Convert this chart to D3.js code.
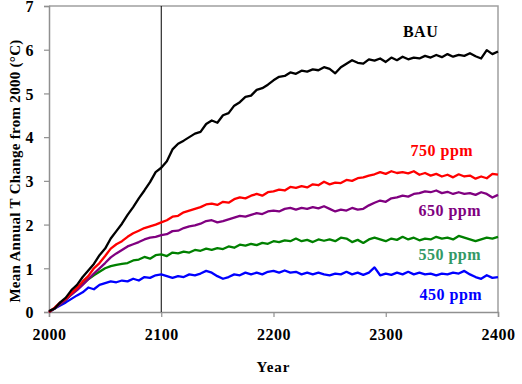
<!DOCTYPE html>
<html>
<head>
<meta charset="utf-8">
<script src="https://cdn.jsdelivr.net/npm/d3@7"></script>
<style>
  body { margin: 0; background: #fff; }
  text { font-family: "Liberation Serif", "Times New Roman", serif; font-weight: bold; }
</style>
</head>
<body>
<svg id="svg"></svg>
<script>
// years sampled every 5 years, 2000..2400
const years = d3.range(2000, 2401, 5);
const xTicks = [2000, 2100, 2200, 2300, 2400];
const yTicks = [0, 1, 2, 3, 4, 5, 6, 7];

const bau = [0.02,0.08,0.22,0.33,0.50,0.62,0.80,0.95,1.10,1.30,1.45,1.68,1.85,2.02,2.22,2.40,2.60,2.78,2.97,3.20,
  3.30,3.45,3.72,3.85,3.92,4.00,4.08,4.12,4.30,4.38,4.33,4.50,4.55,4.72,4.80,4.92,4.95,5.08,5.12,5.20,
  5.30,5.38,5.40,5.48,5.45,5.52,5.50,5.55,5.53,5.60,5.56,5.46,5.60,5.68,5.76,5.70,5.68,5.78,5.75,5.80,
  5.72,5.82,5.76,5.84,5.78,5.82,5.80,5.86,5.82,5.88,5.83,5.90,5.84,5.88,5.86,5.92,5.85,5.80,5.99,5.90,5.96];
const ppm750 = [0.00,0.10,0.22,0.30,0.43,0.55,0.70,0.82,1.00,1.12,1.28,1.45,1.55,1.62,1.72,1.80,1.86,1.92,1.96,2.00,
  2.05,2.10,2.18,2.20,2.28,2.32,2.36,2.40,2.46,2.48,2.45,2.52,2.50,2.58,2.62,2.60,2.66,2.70,2.66,2.74,
  2.76,2.80,2.78,2.86,2.84,2.88,2.85,2.92,2.90,2.98,2.92,2.96,2.95,3.02,3.00,3.06,3.08,3.12,3.15,3.20,
  3.16,3.22,3.18,3.20,3.17,3.22,3.14,3.18,3.12,3.16,3.10,3.14,3.08,3.15,3.10,3.12,3.05,3.10,3.06,3.16,3.14];
const ppm650 = [0.00,0.08,0.18,0.28,0.40,0.50,0.62,0.75,0.88,1.00,1.12,1.25,1.34,1.42,1.50,1.55,1.60,1.66,1.70,1.72,
  1.76,1.78,1.85,1.86,1.92,1.96,1.98,2.02,2.08,2.10,2.05,2.08,2.12,2.16,2.20,2.18,2.22,2.26,2.24,2.30,
  2.32,2.30,2.36,2.38,2.34,2.38,2.36,2.40,2.37,2.42,2.36,2.30,2.34,2.32,2.38,2.34,2.36,2.44,2.50,2.55,
  2.52,2.60,2.62,2.66,2.64,2.70,2.72,2.76,2.74,2.78,2.72,2.75,2.70,2.74,2.70,2.72,2.68,2.74,2.70,2.62,2.68];
const ppm550 = [0.00,0.08,0.18,0.28,0.40,0.52,0.64,0.75,0.84,0.92,1.00,1.05,1.08,1.10,1.12,1.18,1.20,1.26,1.22,1.30,
  1.32,1.28,1.36,1.34,1.38,1.36,1.42,1.40,1.45,1.42,1.46,1.44,1.50,1.47,1.54,1.52,1.56,1.53,1.58,1.56,
  1.62,1.60,1.64,1.62,1.68,1.62,1.65,1.60,1.66,1.63,1.66,1.62,1.70,1.68,1.60,1.65,1.58,1.66,1.70,1.66,
  1.62,1.68,1.65,1.72,1.66,1.70,1.64,1.68,1.66,1.72,1.68,1.70,1.66,1.74,1.70,1.66,1.62,1.66,1.70,1.68,1.72];
const ppm450 = [0.00,0.08,0.15,0.22,0.30,0.38,0.45,0.56,0.52,0.62,0.66,0.70,0.68,0.72,0.70,0.76,0.72,0.80,0.78,0.84,
  0.86,0.82,0.78,0.82,0.80,0.86,0.84,0.88,0.94,0.90,0.82,0.76,0.80,0.86,0.84,0.90,0.86,0.90,0.86,0.92,
  0.94,0.90,0.95,0.90,0.92,0.86,0.90,0.86,0.90,0.86,0.84,0.88,0.86,0.92,0.86,0.90,0.85,0.90,1.02,0.84,
  0.88,0.85,0.90,0.86,0.92,0.86,0.90,0.86,0.88,0.84,0.88,0.86,0.90,0.88,0.94,0.86,0.80,0.76,0.84,0.78,0.80];

const seriesNames = ["BAU", "750 ppm", "650 ppm", "550 ppm", "450 ppm"];
const seriesValues = [bau, ppm750, ppm650, ppm550, ppm450];
const seriesColors = ["#000000", "#ff0000", "#800080", "#008000", "#0000ff"];
const labelColors = ["#000000", "#ff0000", "#800080", "#339966", "#0000ff"];
// label anchor (year, value) for the series names
const labelYears = [2331, 2350, 2357, 2357, 2358];
const labelValues = [6.3, 3.57, 2.2, 1.18, 0.27];

const margin = {top: 6, right: 24, bottom: 72, left: 49},
  width = 522 - margin.left - margin.right,
  height = 384 - margin.top - margin.bottom;

const svg = d3.select("svg")
  .attr("width", 522)
  .attr("height", 384)
  .append("g")
  .attr("transform", `translate(${margin.left},${margin.top})`);

const x = d3.scaleLinear().domain([2000, 2400]).range([0, width]);
const y = d3.scaleLinear().domain([0, 7]).range([height, 0]);

// frame top/right
svg.append("path")
  .attr("d", `M0,0H${width}V${height}`)
  .attr("fill", "none")
  .attr("stroke", "#a0a0a0")
  .attr("stroke-width", 1.5);

const xAxis = svg.append("g")
  .attr("transform", `translate(0,${height})`)
  .call(d3.axisBottom(x).tickValues(xTicks).tickFormat(d3.format("d")).tickSize(5).tickPadding(12));
const yAxis = svg.append("g")
  .call(d3.axisLeft(y).tickValues(yTicks).tickFormat(d3.format("d")).tickSize(5).tickPadding(10));

[xAxis, yAxis].forEach(a => {
  a.select(".domain").attr("stroke", "#909090").attr("stroke-width", 1.5);
  a.selectAll(".tick line").attr("stroke", "#909090").attr("stroke-width", 1.2);
  a.selectAll(".tick text")
    .attr("fill", "#000")
    .style("font-size", "16px")
    .style("font-family", "Liberation Serif, serif")
    .style("font-weight", "bold")
    .style("letter-spacing", "0.5px");
});
yAxis.selectAll(".tick text").attr("dy", "0.36em");

// vertical line at 2100
svg.append("line")
  .attr("x1", x(2100)).attr("x2", x(2100))
  .attr("y1", 0).attr("y2", height)
  .attr("stroke", "#000")
  .attr("stroke-width", 1);

const line = d3.line()
  .x((d, i) => x(years[i]))
  .y(d => y(d));

// draw from bottom to top so BAU sits over the rest
[4, 3, 2, 1, 0].forEach(i => {
  svg.append("path")
    .datum(seriesValues[i])
    .attr("d", line)
    .attr("fill", "none")
    .attr("stroke", seriesColors[i])
    .attr("stroke-width", 2.3)
    .attr("stroke-linejoin", "round");
});

seriesNames.forEach((name, i) => {
  svg.append("text")
    .attr("x", x(labelYears[i]))
    .attr("y", y(labelValues[i]))
    .attr("text-anchor", "middle")
    .attr("fill", labelColors[i])
    .style("font-size", "16px")
    .style("letter-spacing", "0.5px")
    .text(name);
});

svg.append("text")
  .attr("x", width / 2)
  .attr("y", height + 60)
  .attr("text-anchor", "middle")
  .style("font-size", "15px")
  .style("letter-spacing", "1px")
  .text("Year");

svg.append("text")
  .attr("transform", `translate(${-margin.left + 20},${height / 2 + 12}) rotate(-90)`)
  .attr("text-anchor", "middle")
  .style("font-size", "15px")
  .style("letter-spacing", "0.3px")
  .text("Mean Annual T Change from 2000 (°C)");
</script>
</body>
</html>
